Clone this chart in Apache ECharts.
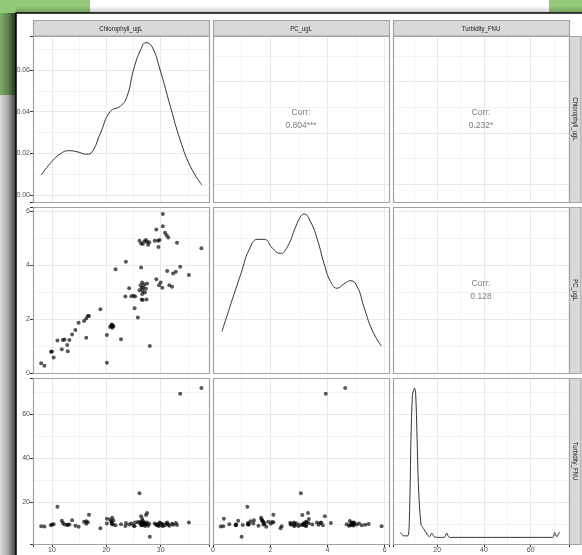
<!DOCTYPE html>
<html><head><meta charset="utf-8">
<script src="https://cdn.jsdelivr.net/npm/echarts@6/dist/echarts.min.js"></script>
<style>html,body{margin:0;padding:0;background:#fff}#c{width:582px;height:555px}</style>
</head><body><div id="c"></div>
<script>
// ---------------- DATA ----------------
const variables = ['Chlorophyll_ugL', 'PC_ugL', 'Turbidity_FNU'];

const chlorophyll = [8.0,8.6,9.8,10.0,10.3,11.0,11.8,12.0,12.3,12.8,12.9,13.2,13.7,14.3,14.9,15.9,16.3,16.6,16.8,16.3,
  18.9,20.1,20.1,20.7,20.9,21.0,21.1,21.2,21.3,21.0,21.7,22.7,23.5,23.6,24.2,24.6,25.0,25.3,25.2,25.8,
  26.1,26.4,26.7,27.0,27.3,27.5,27.7,27.9,26.4,26.3,26.5,26.6,26.7,26.8,27.0,27.1,26.6,26.5,26.7,27.4,
  27.5,27.3,26.1,28.0,29.2,28.9,29.5,29.6,29.8,29.2,29.7,30.0,30.3,30.4,30.4,30.8,31.1,31.4,31.2,31.6,
  32.1,32.3,32.8,33.0,33.6,35.2,37.5];
const pc = [0.36,0.27,0.79,0.80,0.57,1.20,0.88,1.22,1.24,1.04,0.81,1.22,1.43,1.59,1.86,1.93,2.02,2.11,2.11,1.31,
  2.36,0.38,1.41,1.70,1.74,1.78,1.68,1.76,1.72,1.80,3.84,1.25,2.83,4.12,3.14,2.84,2.86,2.83,2.40,2.06,
  4.90,4.80,4.78,4.88,4.93,4.85,4.75,4.84,3.91,3.25,3.15,3.35,3.05,3.18,3.28,2.98,2.93,2.72,2.70,2.72,
  3.32,3.12,3.07,1.00,5.32,4.90,4.90,4.67,4.93,3.47,3.25,3.35,3.16,5.89,5.44,5.20,5.10,5.02,3.78,3.25,
  3.20,3.69,3.75,4.83,3.94,3.63,4.62];
const turbidity = [9.2,9.0,9.6,9.9,10.1,18.0,11.6,10.6,9.9,9.7,9.8,10.0,11.9,9.4,8.9,11.2,10.3,11.0,14.4,11.4,
  8.3,12.6,10.4,12.2,11.3,10.8,13.0,9.9,11.8,10.2,9.6,10.1,9.3,10.6,9.9,10.4,9.5,10.8,9.2,11.1,
  10.7,9.6,11.5,10.2,9.8,10.9,9.4,10.3,13.7,11.2,10.0,12.4,9.7,10.6,11.0,9.3,10.4,9.9,10.7,10.1,
  15.2,14.3,24.1,4.4,9.8,10.4,9.5,10.1,10.9,10.0,9.3,10.5,9.7,9.2,10.2,9.6,10.4,9.9,10.8,9.4,
  10.3,9.8,10.6,9.7,69.2,10.9,71.9];

const corrLabels = ['0.804***', '0.232*', '0.128'];

// density curves (diagonal panels)
const chlDensX = [8.0,9.7,11.5,13.1,14.6,16.4,17.4,18.9,20.7,22.6,23.8,25.0,26.3,27.3,28.4,29.9,31.8,33.6,35.5,37.6];
const chlDensY = [0.0096,0.0153,0.0197,0.0213,0.0208,0.0196,0.0208,0.0296,0.0400,0.0427,0.0472,0.0600,0.0696,0.0731,0.0712,0.0600,0.0424,0.0264,0.0136,0.0048];
const pcDensX = [0.31,0.63,0.98,1.26,1.56,1.79,2.08,2.35,2.60,2.89,3.07,3.18,3.41,3.65,3.88,4.11,4.34,4.57,4.81,5.04,5.27,5.56,5.88];
const pcDensY = [1.53,2.58,3.69,4.56,4.95,4.95,4.62,4.43,4.68,5.42,5.81,5.89,5.60,4.93,4.06,3.38,3.14,3.30,3.42,3.20,2.46,1.59,1.00];
const turbDensX = [4.3,5.7,7.4,8.2,8.8,9.4,9.9,10.3,10.8,11.4,12.0,13.1,14.2,15.6,16.7,17.7,18.7,19.9,23.0,24.1,25.2,40.0,55.0,69.5,70.2,71.2,72.1,72.6];
const turbDensY = [6.3,4.8,4.8,16.7,49.2,68.5,70.8,71.8,69.2,49.2,27.0,10.0,8.1,5.6,4.4,6.0,4.4,4.1,4.1,6.0,4.1,4.1,4.1,4.1,6.3,4.4,6.0,6.4];

// tick labels
const chlTickLabels = [10, 20, 30];
const pcTickLabels = [0, 2, 4, 6];
const turbTickLabels = [20, 40, 60];
const densTickLabels = [0.00, 0.02, 0.04, 0.06];

// ---------------- LAYOUT ----------------
const FONT = "'Liberation Sans',Arial,sans-serif";
const colLeft = [33, 213, 393], rowTop = [36, 207, 378], PW = 176, PH = 166;

const scales = {
  chl:  {range: [6.5, 38.9],     step: 10,   labels: chlTickLabels,  fmt: v => String(v)},
  pc:   {range: [0, 6.15],       step: 2,    labels: pcTickLabels,   fmt: v => String(v)},
  turb: {range: [1.1, 76.4],     step: 20,   labels: turbTickLabels, fmt: v => String(v)},
  dens: {range: [-0.0033, 0.0763], step: 0.02, labels: densTickLabels, fmt: v => v.toFixed(2)}
};
const colScale = ['chl', 'pc', 'turb'];
const rowScale = (r, c) => (r === 0 && c === 0) ? 'dens' : colScale[r];

function makeAxis(kind, gridIndex, showLabels) {
  const s = scales[kind];
  return {
    type: 'value', gridIndex, min: s.range[0], max: s.range[1],
    minInterval: s.step, maxInterval: s.step, splitNumber: 4,
    axisLine: {show: false},
    axisTick: {show: showLabels, length: 3, lineStyle: {color: '#333', width: 1}},
    axisLabel: {
      show: showLabels, fontSize: 7, color: '#4d4d4d', margin: 3, fontFamily: FONT,
      showMinLabel: true, showMaxLabel: true,
      formatter: v => s.labels.some(t => Math.abs(t - v) < 1e-9) ? s.fmt(v) : ''
    },
    splitLine: {show: true, lineStyle: {color: '#e9e9e9', width: 1}},
    minorTick: {show: false, splitNumber: 2},
    minorSplitLine: {show: true, lineStyle: {color: '#f3f3f3', width: 1}}
  };
}

const grids = [], xAxes = [], yAxes = [], series = [];
for (let r = 0; r < 3; r++) for (let c = 0; c < 3; c++) {
  const i = r * 3 + c;
  grids.push({left: colLeft[c], top: rowTop[r], width: PW, height: PH, containLabel: false});
  xAxes.push(makeAxis(colScale[c], i, r === 2));
  yAxes.push(makeAxis(rowScale(r, c), i, c === 0));
}

const zip = (a, b) => a.map((v, k) => [v, b[k]]);
const pointStyle = {symbol: 'circle', symbolSize: 4, itemStyle: {color: 'rgba(0,0,0,0.82)'}};
const lineStyle = {showSymbol: false, smooth: 0.5, lineStyle: {color: '#333', width: 1}, silent: true};

series.push(Object.assign({type: 'line', xAxisIndex: 0, yAxisIndex: 0, data: zip(chlDensX, chlDensY)}, lineStyle));
series.push(Object.assign({type: 'scatter', xAxisIndex: 3, yAxisIndex: 3, data: zip(chlorophyll, pc)}, pointStyle));
series.push(Object.assign({type: 'line', xAxisIndex: 4, yAxisIndex: 4, data: zip(pcDensX, pcDensY)}, lineStyle));
series.push(Object.assign({type: 'scatter', xAxisIndex: 6, yAxisIndex: 6, data: zip(chlorophyll, turbidity)}, pointStyle));
series.push(Object.assign({type: 'scatter', xAxisIndex: 7, yAxisIndex: 7, data: zip(pc, turbidity)}, pointStyle));
series.push(Object.assign({type: 'line', xAxisIndex: 8, yAxisIndex: 8, data: zip(turbDensX, turbDensY)}, lineStyle, {smooth: 0.3}));

// correlation text panels (upper triangle)
[[0, 1, 0], [0, 2, 1], [1, 2, 2]].forEach(([r, c, k]) => {
  const i = r * 3 + c;
  const xs = scales[colScale[c]].range, ys = scales[rowScale(r, c)].range;
  series.push({
    type: 'scatter', xAxisIndex: i, yAxisIndex: i, symbolSize: 0, silent: true,
    data: [[(xs[0] + xs[1]) / 2, (ys[0] + ys[1]) / 2]],
    label: {show: true, position: 'inside', formatter: 'Corr:\n' + corrLabels[k],
      fontSize: 8.5, lineHeight: 13, color: '#5a5a5a', fontFamily: FONT}
  });
});

// ---------------- DECORATION / STRIPS ----------------
const graphics = [
  {type: 'rect', z: -20, shape: {x: 0, y: 0, width: 90, height: 95}, style: {fill: '#93c97a'}},
  {type: 'rect', z: -20, shape: {x: 549, y: 0, width: 33, height: 12}, style: {fill: '#93c97a'}},
  {type: 'rect', z: -15, shape: {x: 0, y: 13, width: 16, height: 542},
    style: {fill: new echarts.graphic.LinearGradient(0, 0, 1, 0, [
      {offset: 0, color: 'rgba(0,0,0,0.14)'}, {offset: 0.5, color: 'rgba(0,0,0,0.35)'}, {offset: 1, color: 'rgba(0,0,0,0.78)'}])}},
  {type: 'rect', z: -15, shape: {x: 16, y: 6, width: 566, height: 7},
    style: {fill: new echarts.graphic.LinearGradient(0, 0, 0, 1, [
      {offset: 0, color: 'rgba(0,0,0,0)'}, {offset: 1, color: 'rgba(0,0,0,0.22)'}])}},
  {type: 'rect', z: -10, shape: {x: 16, y: 13, width: 600, height: 600},
    style: {fill: '#fff', stroke: '#000', lineWidth: 1.5}}
];
for (let r = 0; r < 3; r++) for (let c = 0; c < 3; c++) {
  graphics.push({type: 'rect', z: 50, silent: true, shape: {x: colLeft[c] + 0.5, y: rowTop[r] + 0.5, width: PW, height: PH},
    style: {fill: null, stroke: '#a3a3a3', lineWidth: 1.2}});
}
for (let c = 0; c < 3; c++) {
  graphics.push({type: 'rect', z: 50, shape: {x: colLeft[c] + 0.5, y: 20.5, width: PW, height: 15.5},
    style: {fill: '#d9d9d9', stroke: '#a3a3a3', lineWidth: 1.2}});
  graphics.push({type: 'text', z: 51, x: colLeft[c] + PW / 2, y: 28.5, scaleX: 0.8,
    style: {text: variables[c], x: 0, y: 0, align: 'center', verticalAlign: 'middle', fontSize: 7.5, fill: '#1a1a1a', fontFamily: FONT}});
}
for (let r = 0; r < 3; r++) {
  graphics.push({type: 'rect', z: 50, shape: {x: 569.5, y: rowTop[r] + 0.5, width: 11.5, height: PH},
    style: {fill: '#d9d9d9', stroke: '#a3a3a3', lineWidth: 1.2}});
  graphics.push({type: 'text', z: 51, x: 575.5, y: rowTop[r] + PH / 2, rotation: -Math.PI / 2, scaleX: 0.8,
    style: {text: variables[r], x: 0, y: 0, align: 'center', verticalAlign: 'middle', fontSize: 7.5, fill: '#1a1a1a', fontFamily: FONT}});
}

const chart = echarts.init(document.getElementById('c'), null, {renderer: 'canvas'});
chart.setOption({
  animation: false,
  backgroundColor: '#fff',
  grid: grids, xAxis: xAxes, yAxis: yAxes, series: series,
  graphic: {elements: graphics}
});
</script></body></html>
